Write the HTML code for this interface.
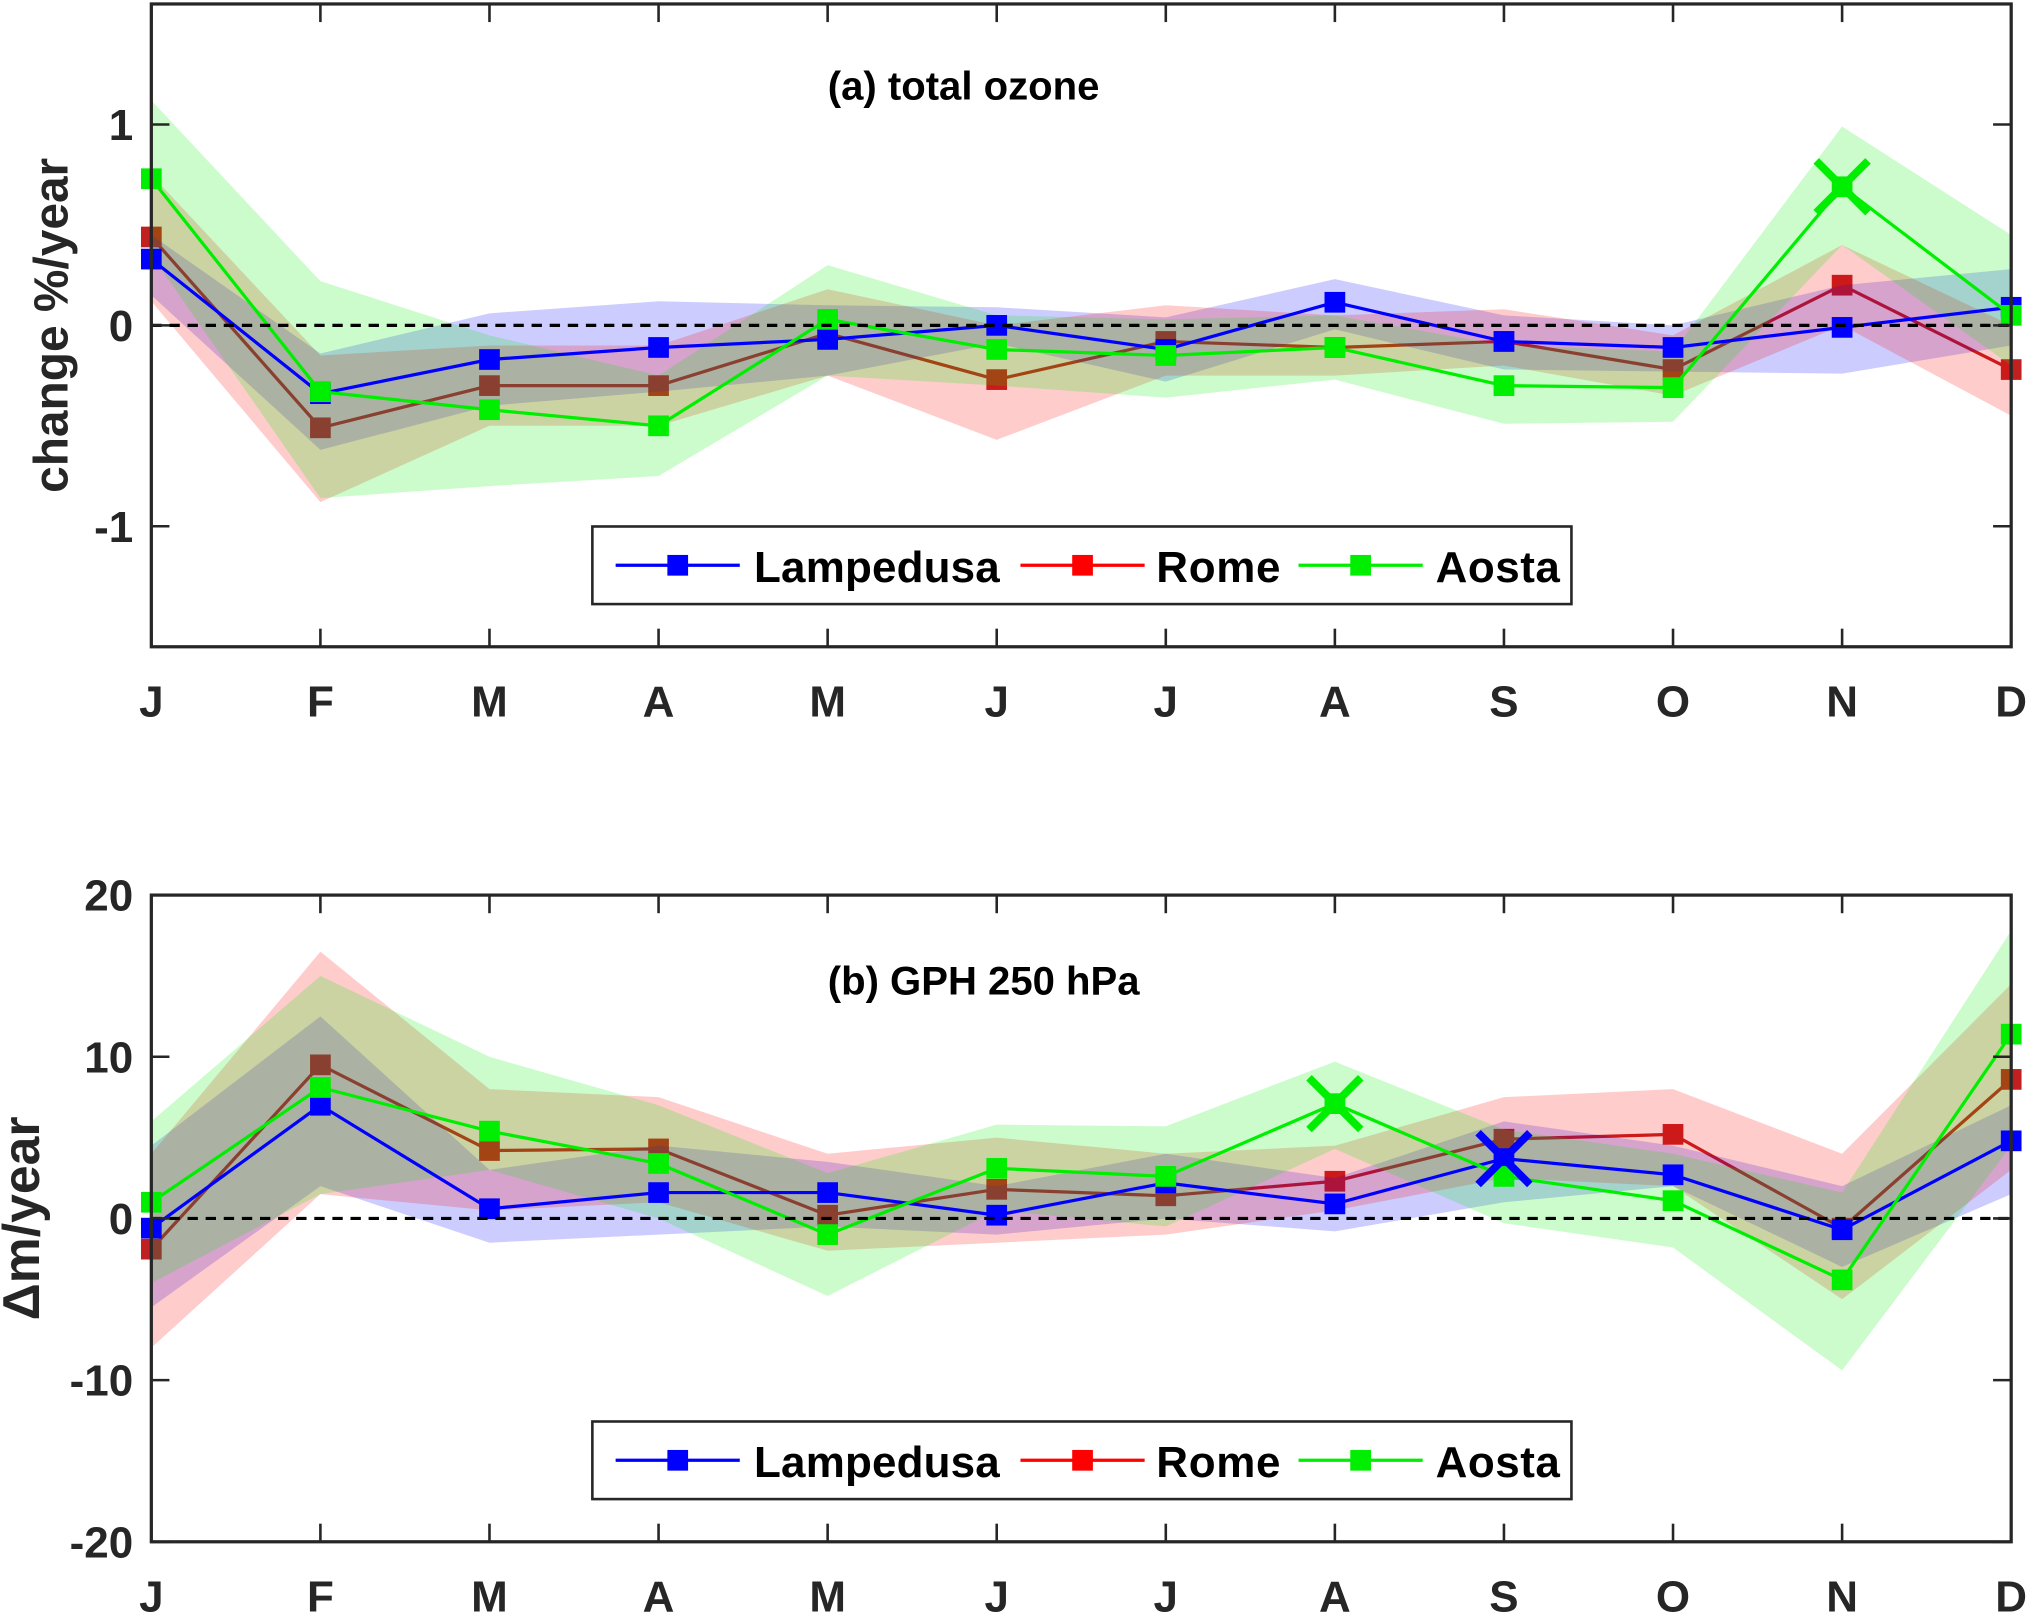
<!DOCTYPE html>
<html><head><meta charset="utf-8"><style>html,body{margin:0;padding:0;background:#fff}svg{display:block}text{font-family:"Liberation Sans",Arial,sans-serif;font-weight:bold}</style></head>
<body>
<svg id="chart" width="2028" height="1613" viewBox="0 0 1568 1247" xmlns="http://www.w3.org/2000/svg"></svg>
<script>
const months = ["J","F","M","A","M","J","J","A","S","O","N","D"];
const seriesNames = ["Lampedusa","Rome","Aosta"];
// Panel a: total ozone
const ozLamp = [0.33,-0.34,-0.17,-0.11,-0.07,0.0,-0.12,0.115,-0.08,-0.11,-0.01,0.09];
const ozRome = [0.44,-0.51,-0.30,-0.30,-0.04,-0.27,-0.08,-0.11,-0.08,-0.22,0.20,-0.22];
const ozAosta = [0.73,-0.33,-0.42,-0.50,0.03,-0.12,-0.15,-0.11,-0.30,-0.31,0.69,0.05];
const ozLampLo = [0.15,-0.62,-0.40,-0.33,-0.25,-0.09,-0.28,-0.02,-0.22,-0.23,-0.24,-0.10];
const ozLampHi = [0.45,-0.14,0.06,0.12,0.10,0.09,0.04,0.23,0.05,0.00,0.20,0.28];
const ozRomeLo = [0.12,-0.88,-0.50,-0.50,-0.25,-0.57,-0.25,-0.25,-0.20,-0.35,0.00,-0.45];
const ozRomeHi = [0.75,-0.15,-0.10,-0.10,0.18,0.00,0.10,0.05,0.08,-0.05,0.40,0.00];
const ozAostaLo = [0.35,-0.86,-0.80,-0.75,-0.25,-0.30,-0.36,-0.27,-0.49,-0.48,0.40,-0.20];
const ozAostaHi = [1.12,0.22,-0.05,-0.25,0.30,0.05,0.03,0.05,-0.10,-0.13,0.99,0.45];
const ozTicks = [-1,0,1];
const ozTickLabels = ["-1","0","1"];
const ozCross = [{s:2,i:10}];
// Panel b: GPH 250 hPa
const gLamp = [-0.6,7.0,0.6,1.6,1.6,0.2,2.2,0.9,3.7,2.7,-0.7,4.8];
const gRome = [-1.9,9.5,4.2,4.3,0.2,1.8,1.4,2.3,4.9,5.2,-0.6,8.6];
const gAosta = [1.0,8.1,5.4,3.4,-1.0,3.1,2.6,7.1,2.6,1.1,-3.8,11.4];
const gLampLo = [-5.5,2,-1.5,-1,-0.5,-1,0,-0.8,1,2,-3,1.5];
const gLampHi = [4.5,12.5,3,4.5,3.5,2,4,2.5,6,4.5,2,7];
const gRomeLo = [-8,1.5,0.5,1,-2,-1.5,-1,0.5,2.5,2,-5,3];
const gRomeHi = [4,16.5,8,7.5,4,5,4,4.5,7.5,8,4,14.5];
const gAostaLo = [-4,1.5,3,0,-4.8,0.5,-0.5,4.3,-0.3,-1.8,-9.4,4.5];
const gAostaHi = [6,15,10,7,2.8,5.8,5.7,9.7,5.5,4,1.6,17.8];
const gTicks = [-20,-10,0,10,20];
const gTickLabels = ["-20","-10","0","10","20"];
const gCross = [{s:2,i:7},{s:0,i:8}];

const NS="http://www.w3.org/2000/svg";
const svg=document.getElementById('chart');
const colors=["#0000ff","#ff0000","#00ee00"];
const lineColors=["#0000ff","#c02020","#00ee00"];
function el(t,a,p){const e=document.createElementNS(NS,t);for(const k in a)e.setAttribute(k,a[k]);(p||svg).appendChild(e);return e;}
const X0=117,X1=1555;
function xs(i){return X0+i*(X1-X0)/11;}

function panel(cfg){
  const g=el('g',{});
  
  
  const ys=v=>cfg.top+(cfg.max-v)/(cfg.max-cfg.min)*(cfg.bot-cfg.top);
  const vals=cfg.vals, los=cfg.los, his=cfg.his;
  function drawLine(s){
    let d=vals[s].map((v,i)=>(i?'L':'M')+xs(i)+','+ys(v)).join(' ');
    const p=el('path',{d:d,fill:'none',stroke:lineColors[s],'stroke-width':2.5},g);
    
    
    vals[s].forEach((v,i)=>{
      const r=el('rect',{x:xs(i)-8,y:ys(v)-8,width:16,height:16,fill:lineColors[s]},g);
      
      
    });
  }
  drawLine(1);
  [0,1,2].forEach(s=>{
    let d='M'+his[s].map((v,i)=>xs(i)+','+ys(v)).join(' L');
    for(let i=11;i>=0;i--)d+=' L'+xs(i)+','+ys(los[s][i]);
    d+=' Z';
    const p=el('path',{d:d,fill:colors[s],'fill-opacity':0.2,stroke:'none'},g);
    
    
  });
  drawLine(0);drawLine(2);
  const z=el('line',{x1:X0,x2:X1,y1:ys(0),y2:ys(0),stroke:'#000','stroke-width':2.5,'stroke-dasharray':'8,6'},g);
  
  
  cfg.cross.forEach(c=>{
    const cx=xs(c.i),cy=ys(vals[c.s][c.i]);
    const p=el('path',{d:`M${cx-20},${cy-20}L${cx+20},${cy+20}M${cx+20},${cy-20}L${cx-20},${cy+20}`,stroke:colors[c.s],'stroke-width':6,fill:'none'},g);
    
    
  });
  const b=el('rect',{x:X0,y:cfg.top,width:X1-X0,height:cfg.bot-cfg.top,fill:'none',stroke:'#262626','stroke-width':2.5},g);
  
  
  months.forEach((m,i)=>{
    const x=xs(i);
    const t1=el('line',{x1:x,x2:x,y1:cfg.top,y2:cfg.top+14,stroke:'#262626','stroke-width':2},g);
    
    
    const t2=el('line',{x1:x,x2:x,y1:cfg.bot,y2:cfg.bot-14,stroke:'#262626','stroke-width':2},g);
    
    
    const t=el('text',{x:x,y:cfg.bot+54,'font-size':34,'text-anchor':'middle',fill:'#262626'},g);
    t.textContent=m;
    
    
  });
  cfg.ticks.forEach((v,k)=>{
    const y=ys(v);
    const t1=el('line',{x1:X0,x2:X0+14,y1:y,y2:y,stroke:'#262626','stroke-width':2},g);
    
    
    const t2=el('line',{x1:X1,x2:X1-14,y1:y,y2:y,stroke:'#262626','stroke-width':2},g);
    
    
    const t=el('text',{x:103,y:y+12,'font-size':34,'text-anchor':'end',fill:'#262626'},g);
    t.textContent=cfg.tickLabels[k];
    
    
  });
  const yt=el('text',{x:0,y:0,'font-size':cfg.ytSize,'text-anchor':'middle',fill:'#262626',transform:`translate(${cfg.ytx},${(cfg.top+cfg.bot)/2}) rotate(-90)`},g);
  yt.textContent=cfg.ytitle;
  
  
  const tt=el('text',{x:640,y:cfg.titleY,'font-size':31,fill:'#000'},g);
  tt.textContent=cfg.title;
  
  
  const L=el('g',{},g);
  
  
  const ly=cfg.legY;
  const lb=el('rect',{x:458,y:ly,width:757,height:60,fill:'#fff',stroke:'#262626','stroke-width':2},L);
  
  
  const lx=[476,789,1004], tx=[583,894,1110];
  [0,1,2].forEach(s=>{
    const e=el('g',{},L);
    
    
    el('line',{x1:lx[s],x2:lx[s]+96,y1:ly+30,y2:ly+30,stroke:colors[s],'stroke-width':2.5},e);
    el('rect',{x:lx[s]+40,y:ly+22,width:16,height:16,fill:colors[s]},e);
    const t=el('text',{x:tx[s],y:ly+43,'font-size':34,fill:'#000',textLength:[190,96,96][s]},e);
    t.textContent=seriesNames[s];
  });
}
panel({name:'panel-a-total-ozone',top:3,bot:500,min:-1.6,max:1.6,vals:[ozLamp,ozRome,ozAosta],los:[ozLampLo,ozRomeLo,ozAostaLo],his:[ozLampHi,ozRomeHi,ozAostaHi],ticks:ozTicks,tickLabels:ozTickLabels,cross:ozCross,ytitle:'change %/year',ytx:52,ytSize:37,title:'(a) total ozone',titleY:77,legY:407});
panel({name:'panel-b-gph-250',top:692,bot:1192,min:-20,max:20,vals:[gLamp,gRome,gAosta],los:[gLampLo,gRomeLo,gAostaLo],his:[gLampHi,gRomeHi,gAostaHi],ticks:gTicks,tickLabels:gTickLabels,cross:gCross,ytitle:'Δm/year',ytx:30,ytSize:40,title:'(b) GPH 250 hPa',titleY:769,legY:1099});
</script>
</body></html>
